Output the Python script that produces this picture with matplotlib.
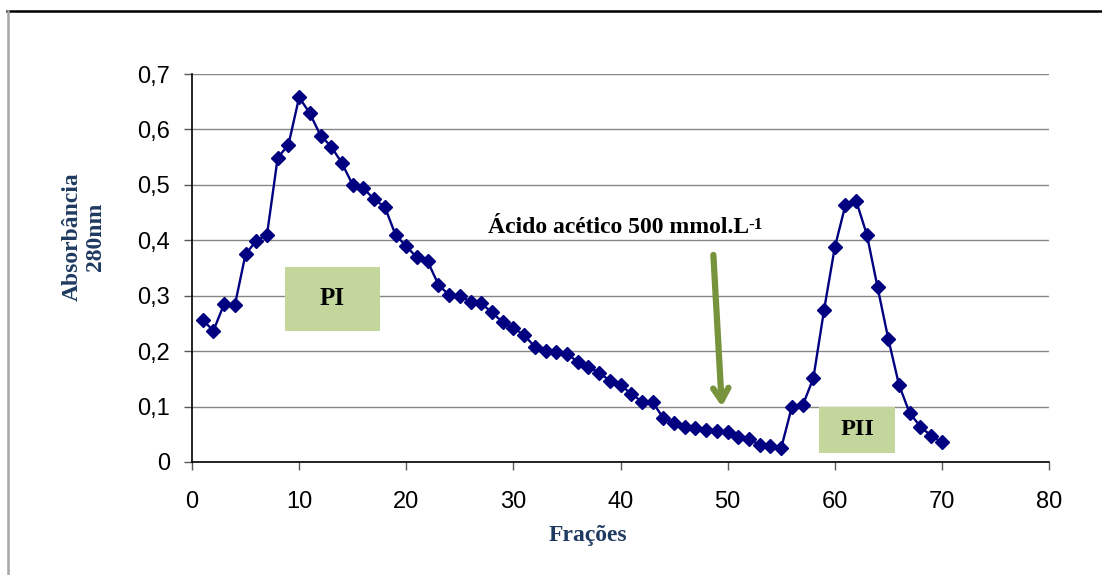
import numpy as np
import matplotlib
matplotlib.use("Agg")
import matplotlib.pyplot as plt
from matplotlib.patches import Rectangle
from matplotlib.lines import Line2D
from matplotlib.ticker import FuncFormatter

# fractions and absorbance at 280 nm
fracoes = list(range(1, 71))
absorbancia = [
    0.256, 0.237, 0.285, 0.283, 0.375, 0.399, 0.410, 0.549, 0.572, 0.658,
    0.629, 0.589, 0.569, 0.539, 0.500, 0.494, 0.474, 0.460, 0.410, 0.389,
    0.369, 0.362, 0.320, 0.301, 0.300, 0.289, 0.286, 0.270, 0.252, 0.242,
    0.229, 0.208, 0.200, 0.198, 0.195, 0.181, 0.172, 0.161, 0.147, 0.139,
    0.123, 0.109, 0.108, 0.079, 0.070, 0.064, 0.061, 0.058, 0.056, 0.054,
    0.045, 0.041, 0.031, 0.029, 0.025, 0.100, 0.102, 0.151, 0.274, 0.387,
    0.464, 0.471, 0.410, 0.315, 0.222, 0.139, 0.088, 0.064, 0.047, 0.036,
]
x_ticks = list(range(0, 90, 10))
y_ticks = [0, 0.1, 0.2, 0.3, 0.4, 0.5, 0.6, 0.7]

navy = "#000080"
title_blue = "#1F3A60"
box_green = "#C3D69B"
arrow_green = "#77933C"
serif = "Liberation Serif"
sans = "Liberation Sans"

fig = plt.figure(figsize=(11.02, 5.75), dpi=100)
ax = fig.add_axes([192 / 1102, 1 - 462 / 575, 857 / 1102, 388 / 575])

ax.set_axisbelow(True)
ax.yaxis.grid(True, color="#868686", lw=1.0)
ax.plot(fracoes, absorbancia, color=navy, lw=1.7, marker="D", ms=6.8,
        mfc=navy, mec=navy, zorder=4, clip_on=False)

ax.set_xlim(0, 80)
ax.set_ylim(0, 0.7)
ax.set_xticks(x_ticks)
ax.set_yticks(y_ticks)
ax.yaxis.set_major_formatter(FuncFormatter(lambda v, p: ("%g" % round(v, 1)).replace(".", ",")))

for s in ["top", "right"]:
    ax.spines[s].set_visible(False)
for s in ["left", "bottom"]:
    ax.spines[s].set_color("black")
    ax.spines[s].set_linewidth(1.2)

ax.tick_params(axis="y", direction="out", length=6, width=1, color="#595959",
               pad=10, labelsize=17)
ax.tick_params(axis="x", direction="out", length=6, width=1, color="#595959",
               pad=15, labelsize=17)
for lab in ax.get_xticklabels() + ax.get_yticklabels():
    lab.set_fontfamily(sans)

# axis titles
fig.text(84 / 1102, 1 - 237 / 575, "Absorbância\n280nm", rotation=90,
         ha="center", va="center", multialignment="center",
         fontsize=17, fontweight="bold", family=serif, color=title_blue,
         linespacing=1.12)
fig.text(588 / 1102, 1 - 536 / 575, "Frações", ha="center", va="center",
         fontsize=17, fontweight="bold", family=serif, color=title_blue)

# peak labels
ax.add_patch(Rectangle((8.68, 0.2365), 8.87, 0.1155, facecolor=box_green,
                       edgecolor="none", zorder=3))
ax.text(13.1, 0.2945, "PI", ha="center", va="center", fontsize=18,
        fontweight="bold", family=serif, zorder=5)
ax.add_patch(Rectangle((58.54, 0.016), 7.1, 0.083, facecolor=box_green,
                       edgecolor="none", zorder=3))
ax.text(62.1, 0.058, "PII", ha="center", va="center", fontsize=17.5,
        fontweight="bold", family=serif, zorder=5)

# elution annotation
t = ax.text(27.6, 0.4225, "Ácido acético 500 mmol.L", ha="left", va="center",
            fontsize=17, fontweight="bold", family=serif, zorder=5)
ax.annotate("-1", xy=(1.0, 1.02), xycoords=t, ha="left", va="top",
            fontsize=12.5, fontweight="bold", family=serif)
ax.annotate("", xy=(49.46, 0.0999), xytext=(48.67, 0.3736),
            arrowprops=dict(arrowstyle="->,head_length=0.9,head_width=0.55",
                            color=arrow_green, lw=4.5, shrinkA=0, shrinkB=0),
            zorder=5)

# outer frame of the chart area
fig.add_artist(Line2D([7 / 1102, 1], [1 - 11 / 575, 1 - 11 / 575],
                      transform=fig.transFigure, color="black", lw=1.8))
fig.add_artist(Line2D([7.5 / 1102, 7.5 / 1102], [0, 1 - 11 / 575],
                      transform=fig.transFigure, color="#A6A6A6", lw=1.8))

fig.savefig("out.png", dpi=100)
